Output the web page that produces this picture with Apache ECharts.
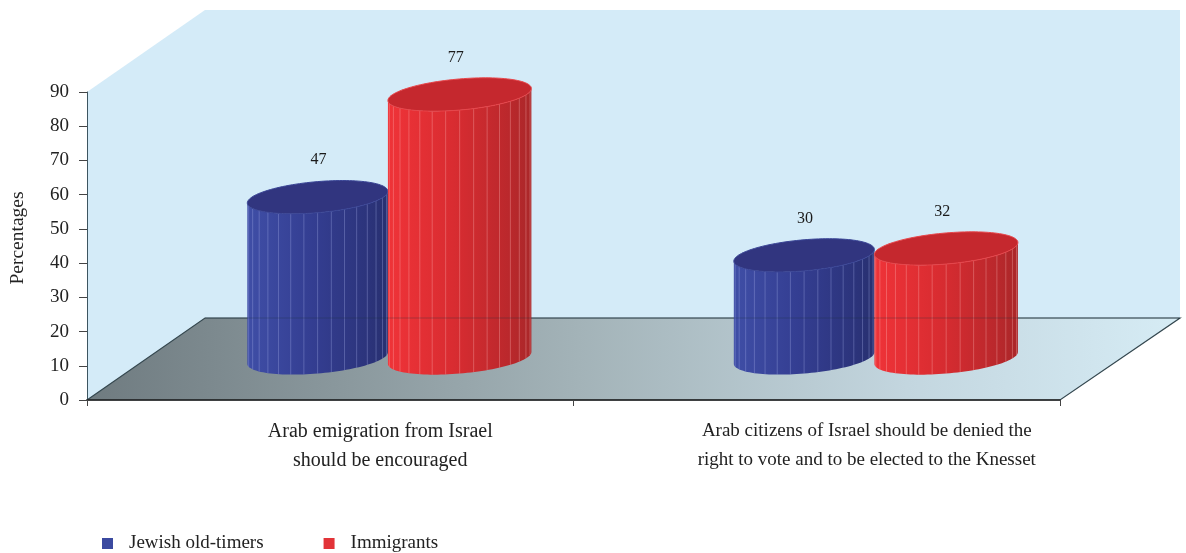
<!DOCTYPE html>
<html><head><meta charset="utf-8">
<script src="https://cdn.jsdelivr.net/npm/echarts@6/dist/echarts.min.js"></script>
<style>html,body{margin:0;padding:0;background:#fff}#c{width:1186px;height:553px;filter:blur(0.4px)}</style>
</head><body><div id="c"></div>
<script>
const categories = ['Arab emigration from Israel\nshould be encouraged','Arab citizens of Israel should be denied the\nright to vote and to be elected to the Knesset'];
const oldTimers = [47, 30];
const immigrants = [77, 32];
const yTicks = {min:0,max:90,interval:10};
const categorySizes = [20, 19];
const FONT = '"Liberation Serif", serif';
const chart = echarts.init(document.getElementById('c'), null, {renderer:'canvas'});
const L=87,R=1060,T=92,B=400,DX=118,DY=82,TOPY=10;
function linear(stops){return {type:'linear',x:0,y:0,x2:1,y2:0,colorStops:stops.map(s=>({offset:s[0],color:s[1]}))};}
function cylinder(shift, look){
  return function(params, api){
    const cat=api.value(0), v=api.value(1);
    const band=api.size([1,0])[0];
    const base=api.coord([cat,0]), top=api.coord([cat,v]);
    const cx=base[0]+shift*band, lift=42;
    const yb=base[1]-lift, yt=top[1]-lift;
    const a=band*look.a, b=15.5, r=-5*Math.PI/180;
    const t0=Math.atan2(-b*Math.sin(r),a*Math.cos(r));
    const pt=(t,cy)=>[cx+a*Math.cos(t)*Math.cos(r)-b*Math.sin(t)*Math.sin(r), cy+a*Math.cos(t)*Math.sin(r)+b*Math.sin(t)*Math.cos(r)];
    const body=[], rim=[];
    const n=60;
    for(let i=0;i<=n;i++) body.push(pt(t0+Math.PI*i/n,yt));
    for(let i=n;i>=0;i--) body.push(pt(t0+Math.PI*i/n,yb));
    for(let i=0;i<=120;i++) rim.push(pt(t0+2*Math.PI*i/120,yt));
    const children=[{type:'polygon',shape:{points:body},style:{fill:linear(look.body),stroke:null}}];
    const N=16;
    for(let k=1;k<N;k++){
      const t=t0+Math.PI*k/N, p1=pt(t,yt), p2=pt(t,yb);
      children.push({type:'line',shape:{x1:p1[0],y1:p1[1],x2:p2[0],y2:p2[1]},style:{stroke:look.stripe,lineWidth:1}});
    }
    children.push({type:'polygon',shape:{points:rim},style:{fill:look.top,stroke:look.rim,lineWidth:1}});
    children.push({type:'text',style:{text:String(v),x:cx+look.labelDx,y:yt-37,align:'center',verticalAlign:'middle',font:'16px '+FONT,fill:'#1a1a1a'}});
    return {type:'group',children};
  };
}
const blueLook={a:0.145,body:[[0,'#3f4ea6'],[0.45,'#343e92'],[0.85,'#2c347c'],[1,'#283070']],top:'#31357f',rim:'#3a4596',stripe:'rgba(170,180,235,0.32)',labelDx:1};
const redLook={a:0.148,body:[[0,'#ef3338'],[0.45,'#d92c31'],[0.85,'#ba282c'],[1,'#aa2729']],top:'#c5282e',rim:'#e8454a',stripe:'rgba(255,190,190,0.32)',labelDx:-4};
chart.setOption({
  animation:false,
  backgroundColor:'#fff',
  grid:{left:L,right:1186-R,top:T,bottom:553-B,containLabel:false,outerBoundsMode:'none'},
  legend:{left:102,top:534,padding:0,itemWidth:11,itemHeight:11,itemGap:60,icon:'rect',
    textStyle:{fontFamily:FONT,fontSize:19,color:'#222',padding:[0,0,0,11]},
    data:[{name:'Jewish old-timers',itemStyle:{color:'#3b4aa0'}},{name:'Immigrants',itemStyle:{color:'#e23338'}}]},
  xAxis:{type:'category',data:categories.map((c,i)=>({value:c,textStyle:{fontSize:categorySizes[i]}})),
    axisLine:{lineStyle:{color:'#222',width:1.5}},
    axisTick:{show:true,alignWithLabel:false,length:6,lineStyle:{color:'#444'}},
    axisLabel:{fontFamily:FONT,fontSize:20,color:'#222',lineHeight:29,margin:17,interval:0,padding:[0,0,0,100]}},
  yAxis:{type:'value',min:yTicks.min,max:yTicks.max,interval:yTicks.interval,
    name:'Percentages',nameLocation:'middle',nameGap:59,
    nameTextStyle:{fontFamily:FONT,fontSize:19.5,color:'#222',padding:[0,0,0,16]},
    axisLine:{show:true,lineStyle:{color:'#3d5560',width:1}},
    axisTick:{show:true,length:8,lineStyle:{color:'#444'}},
    splitLine:{show:false},
    axisLabel:{fontFamily:FONT,fontSize:19,color:'#222',margin:18}},
  graphic:{elements:[
    {type:'polygon',z:-10,silent:true,shape:{points:[[L,T],[L+DX,TOPY],[L+DX,B-DY],[L,B]]},style:{fill:'#d4ebf8'}},
    {type:'polygon',z:-10,silent:true,shape:{points:[[L+DX,TOPY],[R+DX+2,TOPY],[R+DX+2,B-DY],[L+DX,B-DY]]},style:{fill:'#d4ebf8'}},
    {type:'polygon',z:-9,silent:true,shape:{points:[[L,B],[L+DX,B-DY],[R+DX+2,B-DY],[R,B]]},
      style:{fill:linear([[0,'#6f7b80'],[0.45,'#a3b3b8'],[0.75,'#c3d6df'],[1,'#d6ecf5']]),stroke:'#34474f',lineWidth:1.2}},
    {type:'line',z:50,silent:true,shape:{x1:L+DX,y1:B-DY,x2:R+DX+2,y2:B-DY},style:{stroke:'rgba(30,50,60,0.3)',lineWidth:1}}
  ]},
  series:[
    {name:'Jewish old-timers',type:'custom',z:5,itemStyle:{color:'#3b4aa0'},data:oldTimers.map((v,i)=>[i,v]),encode:{x:0,y:1},renderItem:cylinder(-0.026,blueLook)},
    {name:'Immigrants',type:'custom',z:6,itemStyle:{color:'#e23338'},data:immigrants.map((v,i)=>[i,v]),encode:{x:0,y:1},renderItem:cylinder(0.266,redLook)}
  ]
});
</script></body></html>
